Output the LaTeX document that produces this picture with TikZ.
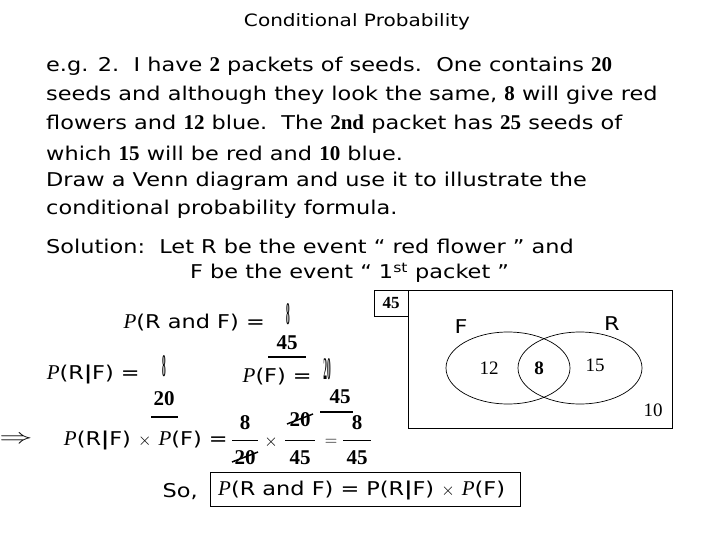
\documentclass[tikz,border=0pt]{standalone}
\usepackage{fontspec}
\setmainfont{DejaVu Sans}[FakeStretch=1.18]
\newfontfamily\tms{Liberation Serif}
\begin{document}
\begin{tikzpicture}[x=1pt,y=-1pt,
  txt/.style={anchor=west,inner sep=0pt,font=\fontsize{19}{22}\selectfont},
  lab/.style={anchor=east,inner sep=0pt,font=\fontsize{19}{22}\selectfont},
  num/.style={inner sep=0pt,font=\tms\bfseries\fontsize{21}{24}\selectfont},
  sq/.style={inner sep=0pt,font=\tms\bfseries\fontsize{21}{24}\selectfont,xscale=0.35,yscale=1.5},
  ln/.style={line width=1.2pt},
  thin/.style={line width=0.7pt}]
\useasboundingbox (0,0) rectangle (720,540);
\newcommand{\nb}[1]{{\tms\bfseries\fontsize{21}{22}\selectfont #1}}
\newcommand{\PP}{{\tms\itshape\fontsize{21}{22}\selectfont P}}
\newcommand{\bb}{\textbf{|}}
\node[inner sep=0pt,font=\fontsize{17}{20}\selectfont] (title) at (357,22) {Conditional Probability};
\node[txt] (l1) at (46,66) {e.g. 2.\ \ I have \nb{2} packets of seeds.\ \ One contains \nb{20}};
\node[txt] (l2) at (46,95) {seeds and although they look the same, \nb{8} will give red};
\node[txt] (l3) at (46,124) {flowers and \nb{12} blue.\ \ The \nb{2nd} packet has \nb{25} seeds of};
\node[txt] (l4) at (46,153) {which \nb{15} will be red and \nb{10} blue.};
\node[txt] (l5) at (46,181) {Draw a Venn diagram and use it to illustrate the};
\node[txt] (l6) at (46,209) {conditional probability formula.};
\node[txt] (s1) at (46,246) {Solution:\ \ Let R be the event `` red flower '' and};
\node[txt] (s2) at (190,273) {F be the event `` 1\textsuperscript{st} packet ''};
% Venn
\draw[thin] (408,290) rectangle (672,428);
\draw[thin] (374,290) rectangle (408,316);
\node[num,font=\tms\bfseries\fontsize{17}{20}\selectfont] (tot) at (391,303) {45};
\draw[thin] (508,368) ellipse [x radius=62,y radius=36];
\draw[thin] (580,368) ellipse [x radius=62,y radius=36];
\node[txt,anchor=center] (F) at (461,327) {F};
\node[txt,anchor=center] (R) at (612,324) {R};
\node[num,font=\tms\fontsize{19}{22}\selectfont] (n12) at (489,368) {12};
\node[num,font=\tms\bfseries\fontsize{19}{22}\selectfont] (n8) at (539,368) {8};
\node[num,font=\tms\fontsize{19}{22}\selectfont] (n15) at (595,365) {15};
\node[num,font=\tms\fontsize{19}{22}\selectfont] (n10) at (653,410) {10};
% P(R and F)
\node[lab] (pra) at (265,323) {\PP(R and F) =};
\node[sq] (a8) at (288,314) {8};
\node[num] (a45) at (287,343) {45};
\draw[ln] (268,357) -- (306,357);
% P(R|F)
\node[lab] (prf) at (140,374) {\PP(R\bb F) =};
\node[sq] (b8) at (164,366) {8};
\node[num] (b20) at (164,399) {20};
\draw[ln] (151,417) -- (178,417);
% P(F)
\node[lab] (pf) at (312,377) {\PP(F) =};
\node[sq] (c20) at (327,369) {20};
\node[num] (c45) at (340,397) {45};
\draw[ln] (320,412) -- (353,412);
% product line
\node[inner sep=0pt,font=\fontsize{20}{22}\selectfont,xscale=1.6] (imp) at (16,440) {$\Rightarrow$};
\node[lab] (prod) at (228,440) {\PP(R\bb F) $\times$ \PP(F) =};
\node[num] (d8) at (245,423) {8};
\node[num] (d20) at (245,458) {20};
\draw[thin] (232,440) -- (258,440);
\draw[line width=1.5pt] (232,462) -- (258,452);
\node[inner sep=0pt,font=\fontsize{19}{22}\selectfont] (x1) at (271,442) {$\times$};
\node[num] (e20) at (300,420) {20};
\draw[line width=1.5pt] (287,424) -- (313,414);
\node[num] (e45) at (300,458) {45};
\draw[thin] (285,440) -- (315,440);
\node[inner sep=0pt,font=\fontsize{19}{22}\selectfont] (eq) at (331,442) {$=$};
\node[num] (f8) at (357,423) {8};
\node[num] (f45) at (357,458) {45};
\draw[thin] (343,440) -- (371,440);
% conclusion
\node[lab] (so) at (198,492) {So,};
\draw[thin] (210,472) rectangle (520,506);
\node[txt] (res) at (218,490) {\PP(R and F) = P(R\bb F) $\times$ \PP(F)};
\end{tikzpicture}
\end{document}
